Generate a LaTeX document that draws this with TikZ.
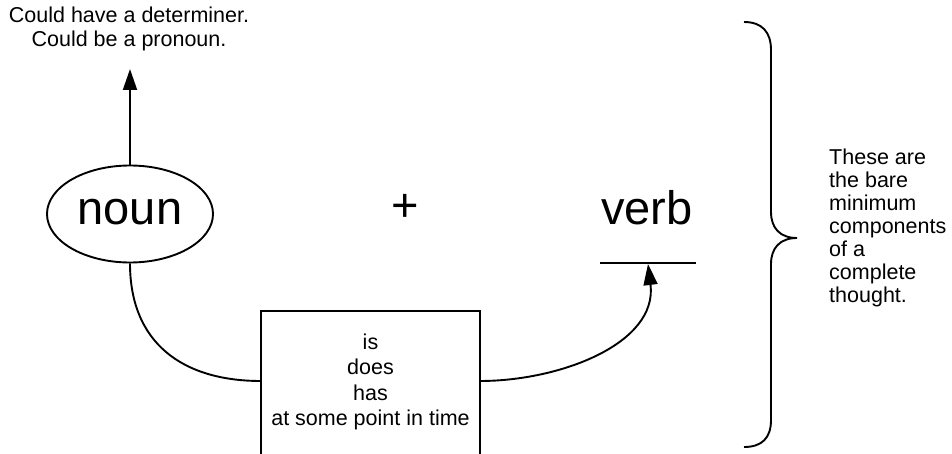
\documentclass[tikz,border=0pt]{standalone}
\usepackage{fontspec}
\setmainfont{Liberation Sans}
\usetikzlibrary{arrows.meta,shapes.geometric}
\tikzset{
  conn/.style={line width=1.9pt},
  tip/.style={-{Triangle[length=21pt,width=14pt]}},
  small/.style={font=\fontsize{21.5}{23.5}\selectfont, align=center, inner sep=0pt},
  big/.style={font=\fontsize{47}{50}\selectfont, inner sep=0pt},
}
\begin{document}
\begin{tikzpicture}[x=1pt,y=-1pt]
\useasboundingbox (0,0) rectangle (952,454);
\clip (0,0) rectangle (952,454);
% top note
\node[small] (note) at (129,29) {Could have a determiner.\\Could be a pronoun.};
\coordinate (notept) at (130,69);
% noun ellipse
\node[ellipse, draw, line width=1.9pt, minimum width=166, minimum height=97, inner sep=0pt] (noun) at (130,214) {};
\node[big] (nountext) at (130,212) {noun};
% plus
\node[big] (plus) at (405,208) {+};
% verb
\node[big, anchor=base] (verb) at (647,225) {verb};
\coordinate (ulL) at (600,263);
\coordinate (ulR) at (696,263);
\coordinate (ulM) at (648,264);
\draw[line width=1.6pt] (ulL) -- (ulR);
% box
\node[draw, line width=1.9pt, minimum width=219, minimum height=170, anchor=north, inner sep=0pt] (box) at (370.5,310) {};
\node[small, font=\fontsize{21.5}{25.5}\selectfont] (boxtext) at (370.5,382) {is\\does\\has\\at some point in time};
\coordinate (bl) at (261,381);
\coordinate (br) at (480,381);
% connectors
\draw[conn, tip] (noun.north) -- (notept);
\draw[conn] (noun.south) to[out=-90, in=180, looseness=1.15] (bl);
\draw[conn, tip] (br) to[out=0, in=-83, looseness=1.0] (ulM);
% brace
\draw[line width=1.9pt] (744,22) .. controls (762,22) and (771,32) .. (771,50)
  -- (771,212) .. controls (771,228) and (780,238) .. (797,238)
  .. controls (780,238) and (771,248) .. (771,264)
  -- (771,420) .. controls (771,438) and (762,447) .. (744,447);
\node[small, align=left, anchor=north west, font=\fontsize{21.5}{23}\selectfont] (summary) at (829,149) {These are\\the bare\\minimum\\components\\of a\\complete\\thought.};
\end{tikzpicture}
\end{document}
